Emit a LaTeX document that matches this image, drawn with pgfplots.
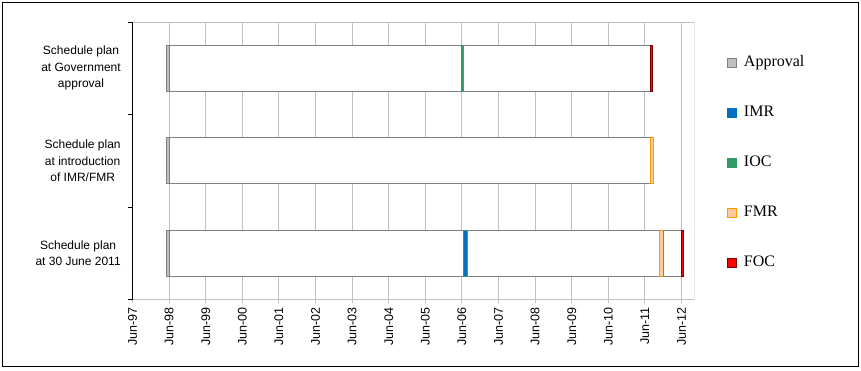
\documentclass[border=0pt]{standalone}
\usepackage{pgfplots}
\pgfplotsset{compat=1.18}
\usepackage{fontspec}
\setmainfont{Liberation Serif}
\newfontfamily\arial{Liberation Sans}
\definecolor{gridc}{HTML}{BFBFBF}
\definecolor{edgec}{HTML}{808080}
\definecolor{apprf}{HTML}{C0C0C0}
\definecolor{imrc}{HTML}{0070C0}
\definecolor{iocc}{HTML}{339966}
\definecolor{fmrf}{HTML}{FFCC99}
\definecolor{fmrd}{HTML}{FF9900}
\definecolor{focf}{HTML}{FF0000}
\definecolor{focd}{HTML}{800000}
% segment: start, end (months after Jun-97), top, bottom, fill, draw
\newcommand\seg[6]{\addplot[fill=#5,draw=#6,line width=0.8pt,forget plot] coordinates {(#1,#3) (#2,#3) (#2,#4) (#1,#4)} -- cycle;}
\begin{document}
\begin{tikzpicture}
\path[use as bounding box] (0pt,0pt) rectangle (861pt,370pt);
\draw[line width=1pt] (2.7pt,4pt) rectangle (858.3pt,367.7pt);
\begin{axis}[
  at={(132.5pt,70.5pt)}, anchor=south west,
  scale only axis, width=561.8pt, height=277.5pt,
  xmin=0, xmax=184.2, ymin=-0.5, ymax=2.5, y dir=reverse,
  axis x line*=bottom, axis y line*=left,
  x axis line style={gridc, line width=1pt, -},
  y axis line style={black, line width=1pt, -},
  xtick={0,12,...,180},
  xticklabels={Jun-97,Jun-98,Jun-99,Jun-00,Jun-01,Jun-02,Jun-03,Jun-04,Jun-05,Jun-06,Jun-07,Jun-08,Jun-09,Jun-10,Jun-11,Jun-12},
  xmajorgrids, major grid style={gridc, line width=1pt},
  tick align=outside,
  xtick style={gridc, line width=1pt, /pgfplots/major tick length=3pt},
  ytick style={black, line width=1pt, /pgfplots/major tick length=5pt},
  xticklabel style={rotate=90, anchor=east, font=\arial\fontsize{12.5}{14}\selectfont},
  ytick={-0.5,0.5,1.5,2.5},
  y tick label as interval,
  yticklabels={{Schedule plan\\at Government\\approval},{Schedule plan\\at introduction\\of IMR/FMR},{Schedule plan\\at 30 June 2011}},
  yticklabel style={align=center, font=\arial\fontsize{12}{16.5}\selectfont, xshift=-4pt},
  legend style={at={(1.0587,0.881)}, anchor=north west, draw=none, fill=none, inner sep=0pt,
    row sep=35pt, column sep=6.7pt, font=\fontsize{16}{19}\selectfont,
    nodes={inner sep=0pt, text height=11pt, text depth=4pt}},
  legend cell align=left,
  legend image code/.code={\draw[#1,line width=0.8pt] (0pt,-4.5pt) rectangle (9pt,4.5pt);},
]
% Row 0: Schedule plan at Government approval
\seg{11.2}{12.0}{-0.25}{0.25}{apprf}{edgec}
\seg{12.0}{107.7}{-0.25}{0.25}{white}{edgec}
\seg{107.7}{108.5}{-0.25}{0.25}{iocc}{iocc}
\seg{108.5}{169.7}{-0.25}{0.25}{white}{edgec}
\seg{169.7}{170.6}{-0.25}{0.25}{focf}{focd}
% Row 1: Schedule plan at introduction of IMR/FMR
\seg{11.2}{12.0}{0.75}{1.25}{apprf}{edgec}
\seg{12.0}{169.7}{0.75}{1.25}{white}{edgec}
\seg{169.7}{170.7}{0.75}{1.25}{fmrf}{fmrd}
% Row 2: Schedule plan at 30 June 2011
\seg{11.2}{12.0}{1.75}{2.25}{apprf}{edgec}
\seg{12.0}{108.5}{1.75}{2.25}{white}{edgec}
\seg{108.5}{109.8}{1.75}{2.25}{imrc}{iocc}
\seg{109.8}{172.7}{1.75}{2.25}{white}{edgec}
\seg{172.7}{174.0}{1.75}{2.25}{fmrf}{fmrd}
\seg{174.0}{180.0}{1.75}{2.25}{white}{edgec}
\seg{180.0}{180.7}{1.75}{2.25}{focf}{focd}
\addlegendimage{fill=apprf, draw=edgec}\addlegendentry{Approval}
\addlegendimage{fill=imrc, draw=imrc}\addlegendentry{IMR}
\addlegendimage{fill=iocc, draw=iocc}\addlegendentry{IOC}
\addlegendimage{fill=fmrf, draw=fmrd}\addlegendentry{FMR}
\addlegendimage{fill=focf, draw=focd}\addlegendentry{FOC}
\draw[gridc, line width=1pt] (axis description cs:0,1) -- (axis description cs:1,1) -- (axis description cs:1,0);
\end{axis}
\end{tikzpicture}
\end{document}
